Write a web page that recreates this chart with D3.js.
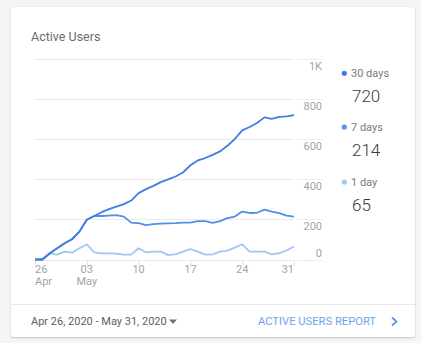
<!DOCTYPE html>
<html lang="en">
<head>
<meta charset="UTF-8">
<title>Active Users</title>
<script src="https://d3js.org/d3.v7.min.js"></script>
<style>
  html, body { margin: 0; padding: 0; background: #f4f5f7; }
  body { width: 421px; height: 343px; overflow: hidden; font-family: Roboto, "Noto Sans", Arial, sans-serif; }
  .card { position: absolute; left: 11px; top: 7px; width: 404px; height: 330px; background: #fff;
          box-shadow: 0 1px 2px rgba(0,0,0,0.18), 0 0 1px rgba(0,0,0,0.12); border-radius: 2px; }
  svg { position: absolute; left: 0; top: 0; }
  .grid line { stroke: #ececec; stroke-width: 1; }
  .tick-label { fill: #a3a3a3; font-size: 11px; }
</style>
</head>
<body>
<div class="card"></div>
<svg id="chart" width="421" height="343"></svg>
<script>
// Data, Apr 26 -> May 31 2020, one value per day
const startDate = new Date(2020, 3, 26);
const endDate = new Date(2020, 4, 31);
const users30 = [0, 0, 31, 56, 81, 101, 139, 198, 217, 236, 251, 264, 276, 294, 331, 351, 367, 386,
                 400, 414, 434, 470, 494, 506, 522, 539, 567, 601, 644, 661, 681, 709, 701, 711, 714, 720];
const users7  = [0, 0, 31, 56, 81, 101, 139, 198, 217, 217, 219, 221, 214, 184, 181, 171, 176, 179,
                 180, 181, 184, 184, 191, 191, 183, 191, 206, 214, 239, 232, 233, 249, 239, 231, 219, 214];
const users1  = [0, 0, 31, 24, 39, 34, 56, 76, 36, 31, 31, 29, 24, 24, 56, 36, 39, 39,
                 22, 27, 39, 52, 39, 24, 26, 39, 44, 59, 76, 39, 39, 39, 26, 32, 45, 65];
const yTicks = [0, 200, 400, 600, 800, 1000];
const yTickLabels = ["0", "200", "400", "600", "800", "1K"];
const xTickDays = [0, 7, 14, 21, 28, 35];
const xTickLabels = [["26", "Apr"], ["03", "May"], ["10", ""], ["17", ""], ["24", ""], ["31", ""]];
const series = [
  { name: "30 days", values: users30, color: "#3f7fe2", dot: "#3f7fe2", total: "720" },
  { name: "7 days",  values: users7,  color: "#4f8fea", dot: "#5592ec", total: "214" },
  { name: "1 day",   values: users1,  color: "#9fc6f4", dot: "#9fc6f4", total: "65" }
];

const dates = d3.timeDay.range(startDate, d3.timeDay.offset(endDate, 1));

const svg = d3.select("#chart");
const plot = { left: 35, right: 294, top: 59, bottom: 259.5 };

const x = d3.scaleTime().domain([startDate, endDate]).range([plot.left, plot.right]);
const y = d3.scaleLinear().domain([0, 1000]).range([plot.bottom, plot.top]);

// title
svg.append("text").attr("x", 31).attr("y", 40.5)
  .attr("fill", "#6b6b6b").attr("font-size", 12.5).text("Active Users");

// grid lines, split around the label column
const grid = svg.append("g").attr("class", "grid");
yTicks.forEach(v => {
  grid.append("line").attr("x1", plot.left).attr("x2", plot.right)
    .attr("y1", Math.round(y(v)) + 0.5).attr("y2", Math.round(y(v)) + 0.5);
  grid.append("line").attr("x1", 297).attr("x2", 322)
    .attr("y1", Math.round(y(v)) + 0.5).attr("y2", Math.round(y(v)) + 0.5);
});

// y labels on the right
svg.append("g").selectAll("text").data(yTicks).join("text")
  .attr("class", "tick-label")
  .attr("x", 322).attr("text-anchor", "end")
  .attr("y", d => d === 0 ? y(d) - 3 : y(d) + 11)
  .text((d, i) => yTickLabels[i]);

// x axis ticks
const xAxis = d3.axisBottom(x)
  .tickValues(xTickDays.map(i => dates[i]))
  .tickSize(5).tickFormat("");
const xg = svg.append("g").attr("transform", `translate(0,${Math.round(plot.bottom) + 0.5})`).call(xAxis);
xg.select(".domain").remove();
xg.selectAll(".tick line").attr("stroke", "#dedede");

const xl = svg.append("g");
xTickDays.forEach((d, i) => {
  const anchor = i === 0 ? "start" : (i === xTickDays.length - 1 ? "end" : "middle");
  const t = xl.append("text").attr("class", "tick-label")
    .attr("x", x(dates[d])).attr("text-anchor", anchor);
  t.append("tspan").attr("x", x(dates[d])).attr("y", 273).text(xTickLabels[i][0]);
  if (xTickLabels[i][1]) t.append("tspan").attr("x", x(dates[d])).attr("y", 284.5).text(xTickLabels[i][1]);
});

// lines (draw light first)
const line = d3.line().x((d, i) => x(dates[i])).y(d => y(d));
series.slice().reverse().forEach(s => {
  svg.append("path").datum(s.values)
    .attr("fill", "none").attr("stroke", s.color)
    .attr("stroke-width", 1.8).attr("stroke-linejoin", "round")
    .attr("d", line);
});

// legend
const legendY = [73.3, 127, 182];
series.forEach((s, i) => {
  const g = svg.append("g").attr("transform", `translate(0,${legendY[i]})`);
  g.append("circle").attr("cx", 344.3).attr("cy", 0).attr("r", 2.6).attr("fill", s.dot);
  g.append("text").attr("x", 351).attr("y", 4).attr("fill", "#7a7a7a")
    .attr("font-size", 11).text(s.name);
  g.append("text").attr("x", 352).attr("y", 28.5).attr("fill", "#3a3a3a")
    .attr("font-size", 17).attr("font-weight", 300).text(s.total);
});

// footer
svg.append("line").attr("x1", 11).attr("x2", 415).attr("y1", 304.5).attr("y2", 304.5)
  .attr("stroke", "#e8e8e8");
svg.append("text").attr("x", 31).attr("y", 325).attr("fill", "#616161")
  .attr("font-size", 11).text("Apr 26, 2020 - May 31, 2020");
svg.append("path").attr("d", "M169,319.5 L177,319.5 L173,324 Z").attr("fill", "#707070");
svg.append("text").attr("x", 258).attr("y", 325).attr("fill", "#6ea2ea")
  .attr("font-size", 11.2).text("ACTIVE USERS REPORT");
svg.append("path").attr("d", "M392,317.5 L396.5,321.5 L392,325.5")
  .attr("fill", "none").attr("stroke", "#5a96ec").attr("stroke-width", 1.8);
</script>
</body>
</html>
